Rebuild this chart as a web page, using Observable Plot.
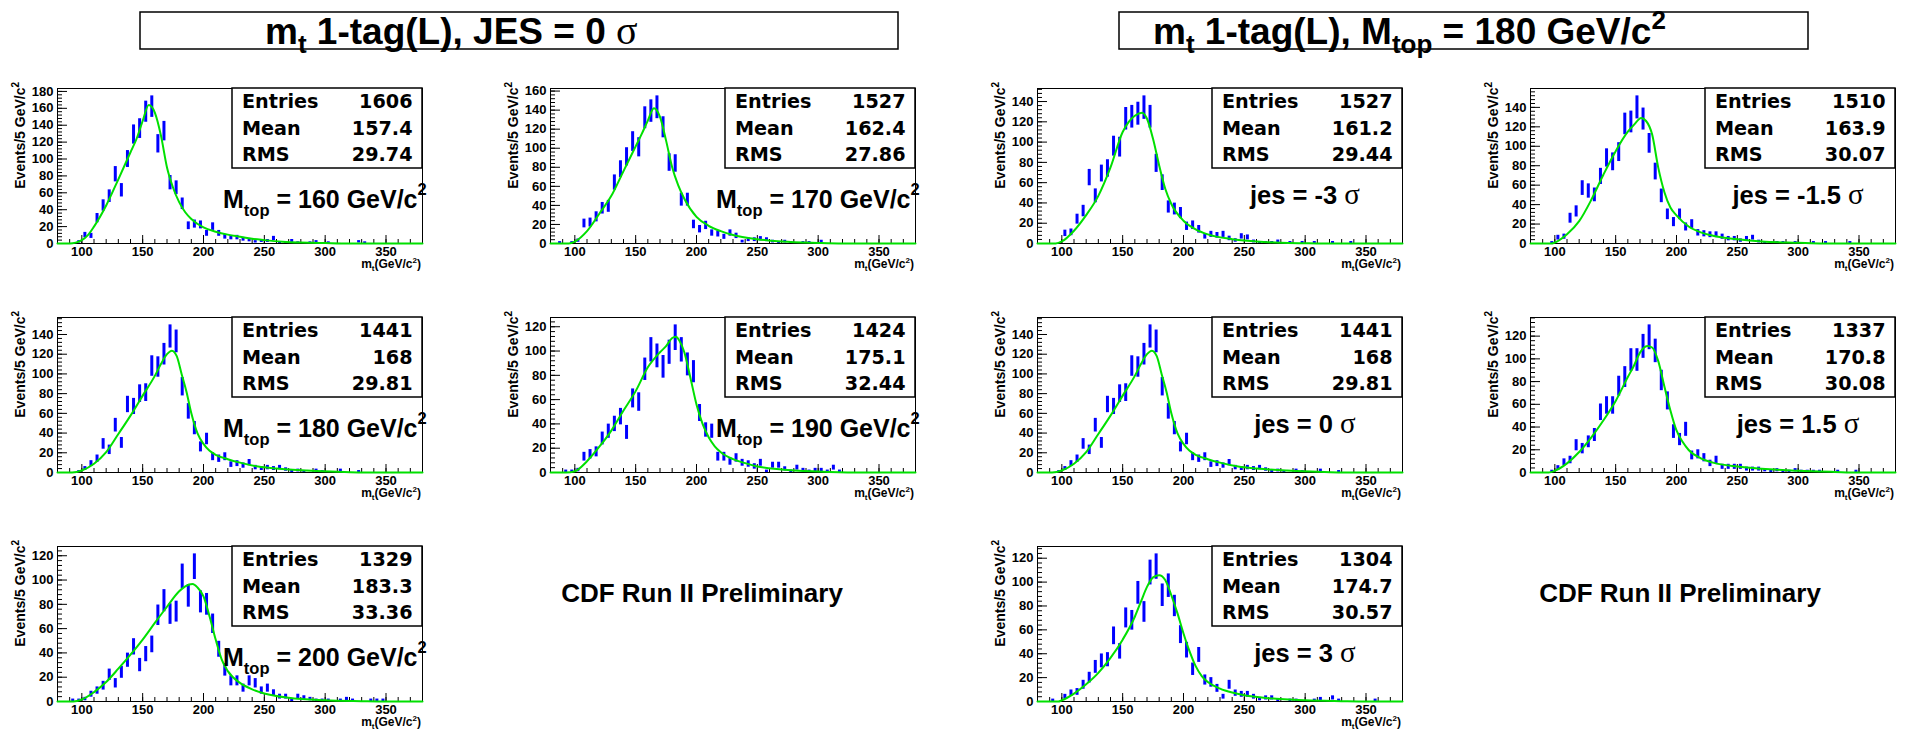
<!DOCTYPE html>
<html>
<head>
<meta charset="utf-8">
<script src="https://cdn.jsdelivr.net/npm/d3@7"></script>
<script src="https://cdn.jsdelivr.net/npm/@observablehq/plot@0.6"></script>
<style>
  body { margin: 0; background: #fff; }
  #page { position: relative; width: 1908px; height: 729px; overflow: hidden; background: #fff; }
  #page svg { position: absolute; overflow: visible; }
  text { white-space: pre; }
</style>
</head>
<body>
<div id="page"></div>
<script>
// m_t histograms, 5 GeV/c^2 bins from 80 to 380 GeV/c^2 (60 bins)
const binLow = 80, binWidth = 5;

const countsM160 = [0,0,0,2,10,9,30,45,56,82,63,100,129,136,156,162,118,133,72,66,47,21,23,22,12,20,12,8,7,7,5,4,2,3,3,6,1,1,3,1,0,1,2,0,1,0,0,0,0,2,1,0,0,0,0,0,0,0,0,0];
const countsM170 = [0,1,0,1,3,21,22,28,37,39,64,78,91,107,101,132,139,143,122,85,84,46,46,20,15,19,11,10,7,11,8,2,4,4,5,4,2,1,2,1,0,1,1,0,2,0,0,0,0,0,0,0,0,0,0,0,0,0,0,0];
const countsM180 = [0,0,0,1,4,9,14,29,23,48,30,69,67,80,81,108,107,120,138,133,87,62,45,26,34,16,14,16,8,9,7,10,5,4,5,4,5,3,1,2,1,0,2,1,0,0,2,0,0,1,0,0,0,0,0,0,0,0,0,0];
const countsM190 = [0,0,1,1,2,13,15,17,28,34,40,46,33,61,58,85,101,96,87,99,111,101,89,83,49,35,34,13,13,9,12,8,7,5,8,1,6,6,3,1,4,2,1,2,2,1,4,1,0,0,0,0,0,0,0,0,0,0,0,0];
const countsM200 = [0,0,1,1,2,6,9,13,22,15,24,34,45,30,39,47,71,83,72,74,103,87,111,82,80,64,43,26,17,17,11,17,15,9,11,7,4,4,1,4,3,2,1,1,1,0,1,2,1,0,0,1,1,1,0,0,0,0,0,0];
const countsJesM3 = [0,0,0,0,10,11,24,32,65,47,69,74,96,95,123,125,128,134,125,79,60,36,34,30,17,18,14,7,9,8,9,5,3,7,6,2,1,1,1,2,0,1,0,1,0,1,0,0,1,0,0,1,0,0,0,0,0,0,0,0];
const countsJesM15 = [0,0,0,1,6,7,26,33,57,54,50,69,88,84,94,123,125,140,128,103,74,49,30,22,30,17,20,11,10,9,9,7,5,5,3,5,6,2,1,1,1,1,0,1,0,0,1,0,1,0,0,0,1,0,0,0,0,0,0,0];
const countsJesP15 = [0,0,0,1,4,9,11,24,21,27,33,53,59,59,76,84,99,99,111,119,107,81,63,36,29,38,15,16,13,8,11,5,5,5,5,3,3,3,2,1,2,1,1,2,1,1,1,1,0,0,1,0,0,1,0,0,0,0,0,0];
const countsJesP3 = [0,0,1,0,4,7,8,14,20,29,34,35,55,42,70,68,91,75,108,113,89,97,80,56,43,27,39,18,16,11,4,14,7,6,6,4,2,3,3,1,0,1,1,0,0,1,2,0,3,1,0,0,0,0,0,1,0,0,0,0];

// fitted template curves, [m_t, events per bin]
const fitM160 = [[80,0],[90,0],[95,1],[100,4],[105,10],[110,20],[120,45],[130,76],[140,108],[145,124],[150,145],[155,164],[160,155],[165,128],[170,90],[175,66],[180,49],[185,37],[190,29],[200,19],[210,14],[220,10.5],[230,8],[240,5.5],[250,4],[265,2.2],[280,1.2],[300,0.5],[320,0],[380,0]];
const fitM170 = [[80,0],[95,0],[100,2],[110,13],[120,31],[130,50],[140,76],[150,102],[155,115],[160,129],[165,142],[170,133],[175,108],[180,80],[185,61],[190,47],[200,28],[210,18.6],[220,13],[230,9],[250,4.5],[270,2],[300,0.5],[320,0],[380,0]];
const fitM180 = [[80,0],[92,0],[100,2],[110,8.8],[120,20.6],[130,39],[140,57.7],[150,78],[160,98],[165,110],[170,120],[174,123.5],[178,118],[182,100],[186,82],[190,60],[195,40],[200,29],[205,22],[210,18],[220,13.5],[230,10],[245,6],[260,4],[285,2],[310,0.8],[330,0],[380,0]];
const fitM190 = [[80,0],[93,0],[100,1],[110,9.3],[120,21],[130,34.5],[140,51],[150,67],[160,86.6],[170,99],[175,104],[180,110.7],[183,111.8],[186,108.5],[190,99],[195,78],[200,56],[205,40],[210,29],[215,21.6],[220,16.7],[230,11],[240,7.7],[250,5],[270,2.5],[300,0.8],[330,0],[380,0]];
const fitM200 = [[80,0],[93,0],[100,1.6],[110,7.7],[120,16],[130,27],[140,38.6],[150,51],[160,64.7],[170,78],[180,90.7],[185,94.8],[191,96.7],[195,94],[200,86.6],[205,70],[210,51],[215,34.5],[220,25],[230,15.3],[240,10],[250,6.6],[270,3],[300,1],[330,0.3],[350,0],[380,0]];
const fitJesM3 = [[80,0],[95,0],[100,2],[110,12.6],[120,28],[130,47],[140,75],[150,110],[155,120],[160,126],[166,129],[170,123],[175,103],[180,77],[185,54],[190,39],[200,22.5],[210,14],[220,9],[240,4.3],[260,2],[280,0.7],[300,0.2],[310,0],[380,0]];
const fitJesM15 = [[80,0],[97,0],[100,1],[110,9.5],[120,23],[130,45],[140,71],[150,95],[160,115],[165,122],[171,129],[175,126],[180,112],[185,78],[190,53],[195,37],[200,29],[210,17.5],[220,11.5],[230,8],[250,4.4],[270,2],[300,0.7],[320,0],[380,0]];
const fitJesP15 = [[80,0],[95,0],[100,1.5],[110,8],[120,18],[130,31],[140,46],[150,63],[160,84],[165,94],[170,105.5],[176,111.3],[180,110],[185,98],[190,76],[195,54.6],[200,37],[205,27],[210,19.8],[220,12.5],[230,8.7],[250,5.2],[270,3.2],[300,1.5],[330,0.5],[350,0],[380,0]];
const fitJesP3 = [[80,0],[97,0],[100,1],[110,6.6],[120,14.4],[130,24],[140,36.6],[150,51.8],[160,71],[165,83.6],[170,96],[175,104],[180,105.8],[185,101.7],[190,89],[195,74],[200,57],[205,42],[210,29.6],[215,21.3],[220,16.3],[230,10.8],[240,7.5],[250,5.3],[270,2.8],[300,1],[330,0.3],[350,0],[380,0]];

// axis ticks
const xMajor = [100, 150, 200, 250, 300, 350];
const xMinor = d3.range(80, 381, 10);
const yStep = 20, yMinorStep = 4;

// frame geometry
const FW = 365, FH = 155;
const ML = 58, MT = 22, MR = 16, MB = 34;
const colX = [57, 550, 1037, 1530];
const rowY = [88, 317, 546];

const SANS = "Liberation Sans, Arial, Helvetica, sans-serif";
const WIDE = "DejaVu Sans, Verdana, sans-serif";
const SERIF = "Liberation Serif, Times New Roman, serif";
const BLUE = "#0000ff";
const GREEN = "#00e000";

const page = d3.select("#page");

// text with sub/superscript pieces; off = baseline shift in px
function rich(sel, x, y, parts, attrs = {}) {
  const t = sel.append("text").attr("x", x).attr("y", y).attr("text-anchor", "start");
  for (const k in attrs) t.attr(k, attrs[k]);
  let cur = 0;
  for (const p of parts) {
    const s = t.append("tspan").text(p.t);
    const off = p.off || 0;
    s.attr("dy", off - cur);
    cur = off;
    if (p.size) s.attr("font-size", p.size);
    if (p.family) s.attr("font-family", p.family);
    if (p.weight) s.attr("font-weight", p.weight);
  }
  return t;
}

function panel({counts, fit, col, row, stats, label}) {
  const bins = counts.map((n, i) => ({m: binLow + binWidth * (i + 0.5), n})).filter(d => d.n > 0);
  const ymax = 1.05 * d3.max(bins, d => d.n + Math.sqrt(d.n));
  const yMajor = d3.range(0, ymax, yStep);
  const yMinor = d3.range(0, ymax, yMinorStep);

  const svgNode = Plot.plot({
    width: ML + FW + MR,
    height: MT + FH + MB,
    marginLeft: ML, marginRight: MR, marginTop: MT, marginBottom: MB,
    style: {fontFamily: SANS, fontWeight: "bold", fontSize: "13px", background: "transparent", overflow: "visible"},
    x: {domain: [binLow, 380]},
    y: {domain: [0, ymax]},
    marks: [
      Plot.frame({stroke: "#000", strokeWidth: 1}),
      Plot.axisX({ticks: xMajor, tickSize: 0, tickPadding: 3.5, label: null, tickFormat: d => String(d)}),
      Plot.axisY({ticks: yMajor, tickSize: 0, tickPadding: 4, label: null, tickFormat: d => String(d)}),
      Plot.tickX(xMinor, {x: d => d, insetTop: FH - 4, stroke: "#000"}),
      Plot.tickX(xMajor, {x: d => d, insetTop: FH - 8, stroke: "#000"}),
      Plot.tickY(yMinor, {y: d => d, insetRight: FW - 5, stroke: "#000"}),
      Plot.tickY(yMajor, {y: d => d, insetRight: FW - 10, stroke: "#000"}),
      Plot.ruleX(bins, {x: "m", y1: d => d.n - Math.sqrt(d.n), y2: d => d.n + Math.sqrt(d.n), stroke: BLUE, strokeWidth: 3}),
      Plot.line(fit, {x: d => d[0], y: d => d[1], stroke: GREEN, strokeWidth: 2, curve: "monotone-x"})
    ]
  });

  const svg = d3.select(svgNode)
    .style("left", (colX[col] - ML) + "px")
    .style("top", (rowY[row] - MT) + "px");
  page.node().appendChild(svgNode);

  const g = svg.append("g").attr("transform", `translate(${ML},${MT})`).attr("fill", "#000").attr("text-anchor", "start");

  // statistics box
  const bx = 175, bw = FW - bx, bh = 80;
  g.append("rect").attr("x", bx).attr("y", 0).attr("width", bw).attr("height", bh)
    .attr("fill", "#fff").attr("stroke", "#000").attr("stroke-width", 1.5);
  const names = ["Entries", "Mean", "RMS"];
  names.forEach((name, i) => {
    const y = 19.8 + i * 26.8;
    g.append("text").attr("x", bx + 10).attr("y", y).attr("text-anchor", "start").text(name)
      .attr("font-family", WIDE).attr("font-weight", "bold").attr("font-size", 19.2);
    g.append("text").attr("x", FW - 9.5).attr("y", y).attr("text-anchor", "end").text(stats[i])
      .attr("font-family", WIDE).attr("font-weight", "bold").attr("font-size", 19.2);
  });

  // sample label
  if (label.mtop) {
    rich(g, 166, 120, [
      {t: "M"},
      {t: "top", size: 16.5, off: 8},
      {t: " = " + label.mtop + " GeV/c", off: 0},
      {t: "2", size: 16.5, off: -13}
    ], {"font-family": SANS, "font-weight": "bold", "font-size": 25});
  } else {
    rich(g, 268, 116, [
      {t: "jes = " + label.jes + " "},
      {t: "σ", family: SERIF, weight: "normal", size: 29}
    ], {"font-family": SANS, "font-weight": "bold", "font-size": 25.5, "text-anchor": "middle"});
  }

  // axis titles
  rich(g, 0, 0, [
    {t: "Events/5 GeV/c"},
    {t: "2", size: 10, off: -6}
  ], {"font-family": SANS, "font-weight": "bold", "font-size": 14, "text-anchor": "end",
      transform: `translate(-32,-6) rotate(-90)`});
  rich(g, FW - 1, FH + 24.5, [
    {t: "m"},
    {t: "t", size: 8, off: 3},
    {t: "(GeV/c", off: 0},
    {t: "2", size: 8, off: -5},
    {t: ")", off: 0}
  ], {"font-family": SANS, "font-weight": "bold", "font-size": 12, "text-anchor": "end"});
}

// page headers
const head = page.append("svg").attr("width", 1908).attr("height", 729).style("left", "0px").style("top", "0px");
head.append("rect").attr("x", 140).attr("y", 12).attr("width", 758).attr("height", 37)
  .attr("fill", "#fff").attr("stroke", "#000").attr("stroke-width", 1.5);
head.append("rect").attr("x", 1119).attr("y", 12).attr("width", 689).attr("height", 37)
  .attr("fill", "#fff").attr("stroke", "#000").attr("stroke-width", 1.5);
rich(head, 265, 44, [
  {t: "m"}, {t: "t", size: 26, off: 9}, {t: " 1-tag(L), JES = 0 ", off: 0},
  {t: "σ", family: SERIF, weight: "normal", size: 40}
], {"font-family": SANS, "font-weight": "bold", "font-size": 37});
rich(head, 1153, 44, [
  {t: "m"}, {t: "t", size: 26, off: 9}, {t: " 1-tag(L), M", off: 0},
  {t: "top", size: 26, off: 9}, {t: " = 180 GeV/c", off: 0}, {t: "2", size: 26, off: -15}
], {"font-family": SANS, "font-weight": "bold", "font-size": 37});
head.append("text").attr("x", 702).attr("y", 602).attr("text-anchor", "middle")
  .attr("font-family", SANS).attr("font-weight", "bold").attr("font-size", 26).text("CDF Run II Preliminary");
head.append("text").attr("x", 1680).attr("y", 602).attr("text-anchor", "middle")
  .attr("font-family", SANS).attr("font-weight", "bold").attr("font-size", 26).text("CDF Run II Preliminary");

// left block: top-mass scan at nominal JES; right block: JES scan at M_top = 180
panel({counts: countsM160, fit: fitM160, col: 0, row: 0, stats: ["1606", "157.4", "29.74"], label: {mtop: 160}});
panel({counts: countsM170, fit: fitM170, col: 1, row: 0, stats: ["1527", "162.4", "27.86"], label: {mtop: 170}});
panel({counts: countsM180, fit: fitM180, col: 0, row: 1, stats: ["1441", "168", "29.81"], label: {mtop: 180}});
panel({counts: countsM190, fit: fitM190, col: 1, row: 1, stats: ["1424", "175.1", "32.44"], label: {mtop: 190}});
panel({counts: countsM200, fit: fitM200, col: 0, row: 2, stats: ["1329", "183.3", "33.36"], label: {mtop: 200}});
panel({counts: countsJesM3, fit: fitJesM3, col: 2, row: 0, stats: ["1527", "161.2", "29.44"], label: {jes: "-3"}});
panel({counts: countsJesM15, fit: fitJesM15, col: 3, row: 0, stats: ["1510", "163.9", "30.07"], label: {jes: "-1.5"}});
panel({counts: countsM180, fit: fitM180, col: 2, row: 1, stats: ["1441", "168", "29.81"], label: {jes: "0"}});
panel({counts: countsJesP15, fit: fitJesP15, col: 3, row: 1, stats: ["1337", "170.8", "30.08"], label: {jes: "1.5"}});
panel({counts: countsJesP3, fit: fitJesP3, col: 2, row: 2, stats: ["1304", "174.7", "30.57"], label: {jes: "3"}});
</script>
</body>
</html>
